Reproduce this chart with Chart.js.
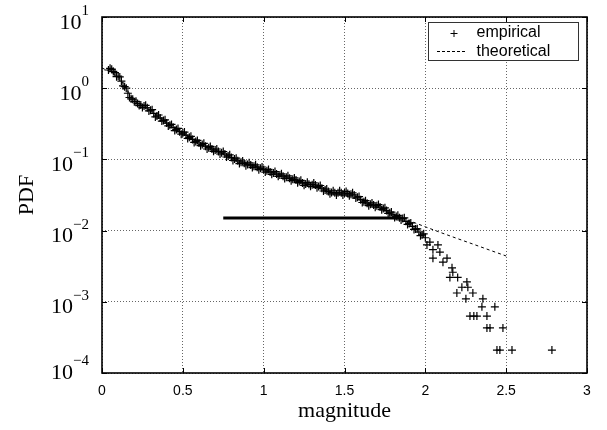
<!DOCTYPE html>
<html><head><meta charset="utf-8">
<script src="https://cdn.jsdelivr.net/npm/chart.js@4.4.1/dist/chart.umd.min.js"></script>
<style>html,body{margin:0;padding:0;background:#fff}#wrap{width:607px;height:430px}</style>
</head><body><div id="wrap"><canvas id="c" width="607" height="430"></canvas></div>
<script>
// empirical PDF (magnitude, PDF)
const empX = [
0.04,0.05,0.06,0.07,0.08,0.09,0.10,0.11,0.12,0.13,
0.14,0.15,0.16,0.17,0.18,0.19,0.20,0.21,0.22,0.23,
0.24,0.25,0.26,0.27,0.28,0.29,0.30,0.31,0.32,0.33,
0.34,0.35,0.36,0.37,0.38,0.39,0.40,0.41,0.42,0.43,
0.44,0.45,0.46,0.47,0.48,0.49,0.50,0.51,0.52,0.53,
0.54,0.55,0.56,0.57,0.58,0.59,0.60,0.61,0.62,0.63,
0.64,0.65,0.66,0.67,0.68,0.69,0.70,0.71,0.72,0.73,
0.74,0.75,0.76,0.77,0.78,0.79,0.80,0.81,0.82,0.83,
0.84,0.85,0.86,0.87,0.88,0.89,0.90,0.91,0.92,0.93,
0.94,0.95,0.96,0.97,0.98,0.99,1.00,1.01,1.02,1.03,
1.04,1.05,1.06,1.07,1.08,1.09,1.10,1.11,1.12,1.13,
1.14,1.15,1.16,1.17,1.18,1.19,1.20,1.21,1.22,1.23,
1.24,1.25,1.26,1.27,1.28,1.29,1.30,1.31,1.32,1.33,
1.34,1.35,1.36,1.37,1.38,1.39,1.40,1.41,1.42,1.43,
1.44,1.45,1.46,1.47,1.48,1.49,1.50,1.51,1.52,1.53,
1.54,1.55,1.56,1.57,1.58,1.59,1.60,1.61,1.62,1.63,
1.64,1.65,1.66,1.67,1.68,1.69,1.70,1.71,1.72,1.73,
1.74,1.75,1.76,1.77,1.78,1.79,1.80,1.81,1.82,1.83,
1.84,1.85,1.86,1.87,1.88,1.89,1.90,1.91,1.92,1.93,
1.94,1.95,1.96,1.97,1.98,1.99,2.00,
2.01,2.028,2.047,2.047,2.078,2.09,2.109,2.134,2.152,2.165,
2.17,2.195,2.20,2.226,2.251,2.257,2.263,2.276,2.294,2.30,
2.319,2.35,2.356,2.381,2.381,2.40,2.43,2.443,2.461,2.48,
2.536,2.783
];
const empY = [
1.80,1.90,1.84,1.72,1.66,1.45,1.48,1.44,1.26,1.08,
1.05,1.00,0.85,0.74,0.71,0.70,0.646,0.655,0.61,0.57,
0.581,0.535,0.562,0.575,0.531,0.48,0.49,0.50,0.442,0.395,
0.407,0.42,0.38,0.345,0.351,0.36,0.324,0.295,0.302,0.31,
0.282,0.254,0.263,0.272,0.245,0.226,0.234,0.242,0.219,0.197,
0.204,0.211,0.191,0.173,0.178,0.185,0.170,0.156,0.162,0.168,
0.153,0.140,0.146,0.152,0.140,0.130,0.135,0.140,0.129,0.119,
0.124,0.129,0.119,0.108,0.112,0.116,0.106,0.0965,0.101,0.104,
0.0955,0.0875,0.0912,0.0950,0.0881,0.0815,0.0851,0.0895,0.0832,0.0768,
0.0804,0.0838,0.0776,0.0718,0.0750,0.0782,0.0724,0.0664,0.0692,0.0722,
0.0668,0.0617,0.0646,0.0674,0.0624,0.0578,0.0603,0.0628,0.0582,0.0539,
0.0562,0.0587,0.0543,0.0503,0.0525,0.0550,0.0513,0.0471,0.0490,0.0508,
0.0468,0.0433,0.0452,0.0476,0.0447,0.0419,0.0442,0.0467,0.0437,0.0401,
0.0417,0.0430,0.0394,0.0360,0.0372,0.0384,0.0355,0.0328,0.0343,0.0363,
0.0339,0.0317,0.0339,0.0363,0.0339,0.0317,0.0337,0.0355,0.0331,0.0308,
0.0324,0.0339,0.0316,0.0287,0.0295,0.0301,0.0272,0.0248,0.0254,0.0263,
0.0243,0.0224,0.0234,0.0245,0.0229,0.0213,0.0224,0.0232,0.0214,0.0197,
0.0204,0.0209,0.0191,0.0174,0.0178,0.0182,0.0166,0.0153,0.0158,0.0164,
0.0151,0.0141,0.0148,0.0151,0.0135,0.0122,0.0126,0.0128,0.0115,0.0104,
0.0105,0.0106,0.00955,0.0085,0.00871,0.0090,0.00794,
0.0063,0.0069,0.0054,0.0041,0.0063,0.0050,0.0036,0.0041,0.0022,0.0030,
0.0026,0.00133,0.0022,0.0016,0.0011,0.0019,0.0016,0.00063,0.00133,0.00063,
0.00063,0.00085,0.0011,0.00063,0.00043,0.00043,0.00085,0.00021,0.00021,0.00043,
0.00021,0.00021
];
// theoretical curve
const theoX = [0,0.1,0.2,0.3,0.4,0.5,0.6,0.8,1.0,1.2,1.4,1.6,1.8,1.9,2.0,2.1,2.2,2.3,2.4,2.5];
const theoY = [1.93,1.48,0.66,0.49,0.324,0.234,0.170,0.106,0.0724,0.0513,0.0355,0.0268,0.0170,0.0138,0.0113,0.0093,0.0077,0.0064,0.0053,0.0044];
// horizontal reference segment
const levelX = [0.75,1.85];
const levelY = [0.015,0.015];
// axes
const xTicks = [0,0.5,1,1.5,2,2.5,3];
const yTicks = [1e-4,1e-3,1e-2,1e-1,1,10];
const yTickExp = ['\u22124','\u22123','\u22122','\u22121','0','1'];
const seriesNames = ['empirical','theoretical'];

const pts = (xs, ys) => xs.map((v,i)=>({x:v, y:ys[i]}));
const GRID = 'rgba(0,0,0,0.6)';

const frame = {
  id:'frame',
  afterDraw(chart){
    const {ctx, chartArea:a, scales:{x,y}} = chart;
    ctx.save();
    ctx.strokeStyle='#000'; ctx.lineWidth=1;
    const line=(x1,y1,x2,y2)=>{ctx.beginPath();ctx.moveTo(x1,y1);ctx.lineTo(x2,y2);ctx.stroke();};
    xTicks.forEach(v=>{const p=Math.round(x.getPixelForValue(v))+0.5; line(p,a.bottom,p,a.bottom-5); line(p,a.top,p,a.top+5);});
    yTicks.forEach(v=>{const p=Math.round(y.getPixelForValue(v))+0.5; line(a.left,p,a.left+5,p); line(a.right,p,a.right-5,p);});
    ctx.lineWidth=1.6;
    ctx.strokeRect(a.left,a.top,a.right-a.left,a.bottom-a.top);
    // y tick labels 10^n
    ctx.fillStyle='#000'; ctx.textBaseline='alphabetic'; ctx.textAlign='left';
    yTicks.forEach((v,i)=>{
      const p=y.getPixelForValue(v);
      ctx.font='22px "Liberation Serif"';
      const wb=ctx.measureText('10').width;
      ctx.font='15px "Liberation Serif"';
      const we=ctx.measureText(yTickExp[i]).width;
      const right = 89;
      const x0 = right-wb-we;
      const bottomShift = (i===0) ? -6 : 0;
      ctx.font='22px "Liberation Serif"';
      ctx.fillText('10', x0, p+11.5+bottomShift);
      ctx.font='15px "Liberation Serif"';
      ctx.fillText(yTickExp[i], x0+wb, p-2+bottomShift);
    });
    // legend
    const lx=428.5, ly=22.5, lw=150, lh=38;
    ctx.fillStyle='#fff'; ctx.fillRect(lx,ly,lw,lh);
    ctx.strokeStyle='#333'; ctx.lineWidth=1; ctx.strokeRect(lx,ly,lw,lh);
    ctx.strokeStyle='#000';
    line(454,33.5-3.5,454,33.5+3.5); line(450.5,33.5,457.5,33.5);
    ctx.setLineDash([3,2]); line(437,51.5,466,51.5); ctx.setLineDash([]);
    ctx.fillStyle='#000'; ctx.font='16px "Liberation Sans"';
    const ds = chart.data.datasets;
    ctx.fillText(ds[0].label, 476.5, 37);
    ctx.fillText(ds[1].label, 476.5, 55.5);
    ctx.restore();
  }
};

new Chart(document.getElementById('c'), {
  type:'scatter',
  data:{datasets:[
    {label:seriesNames[0], data:pts(empX,empY), showLine:false, pointStyle:'cross', pointRadius:4, pointBorderWidth:1.2, borderColor:'#000', backgroundColor:'#000', order:0},
    {label:seriesNames[1], data:pts(theoX,theoY), showLine:true, pointRadius:0, borderColor:'#000', borderWidth:1, borderDash:[3,3], order:2},
    {label:'level', data:pts(levelX,levelY), showLine:true, pointRadius:0, borderColor:'#000', borderWidth:3, order:1}
  ]},
  options:{
    responsive:false, animation:false, devicePixelRatio:1,
    layout:{padding:{top:17,right:20,left:0,bottom:0}},
    plugins:{legend:{display:false}, tooltip:{enabled:false}},
    scales:{
      x:{type:'linear', min:0, max:3,
        afterBuildTicks:s=>{s.ticks=xTicks.map(v=>({value:v}));},
        afterFit:s=>{s.height=57;},
        ticks:{color:'#000', font:{family:'Liberation Sans', size:14}, padding:10, maxRotation:0, autoSkip:false, callback:v=>String(v)},
        grid:{color:GRID, lineWidth:1, drawTicks:false},
        border:{display:false, dash:[1,2]},
        title:{display:true, text:'magnitude', color:'#000', font:{family:'Liberation Serif', size:22}, padding:{top:0,bottom:6}}
      },
      y:{type:'logarithmic', min:1e-4, max:10,
        afterBuildTicks:s=>{s.ticks=yTicks.map(v=>({value:v, major:true}));},
        afterFit:s=>{s.width=102;},
        ticks:{display:false},
        grid:{color:GRID, lineWidth:1, drawTicks:false},
        border:{display:false, dash:[1,2]},
        title:{display:true, text:'PDF', color:'#000', font:{family:'Liberation Serif', size:22}, padding:{top:14,bottom:0}}
      }
    }
  },
  plugins:[frame]
});
</script></body></html>
